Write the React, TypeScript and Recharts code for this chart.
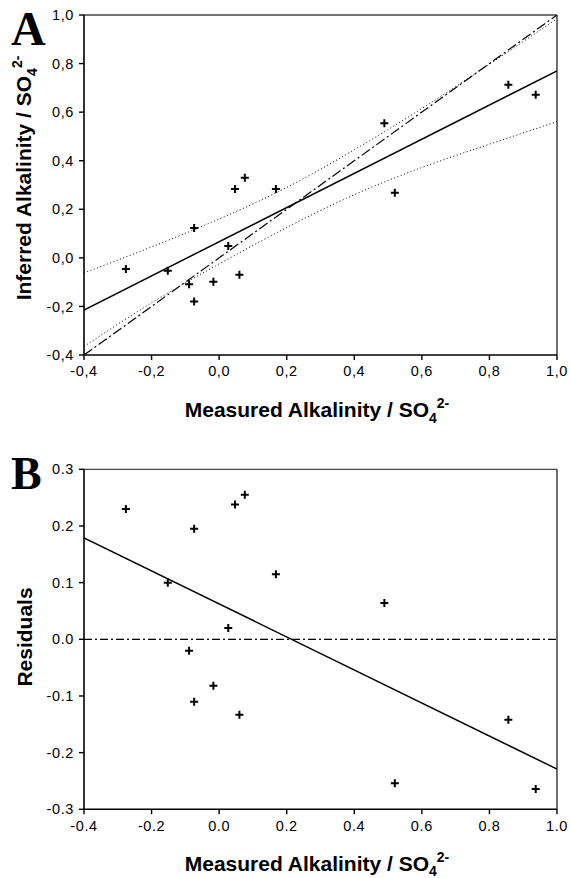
import React from "react";
import { ComposedChart, XAxis, YAxis, Line, Scatter, ReferenceLine } from "recharts";

// Measured vs inferred alkalinity / SO4 2-
const measured = [-0.276, -0.152, -0.089, -0.074, -0.017, 0.027, 0.06, -0.074, 0.047, 0.076, 0.168, 0.489, 0.52, 0.856, 0.937];
const inferred = [-0.046, -0.053, -0.109, -0.18, -0.098, 0.049, -0.07, 0.123, 0.284, 0.33, 0.284, 0.554, 0.268, 0.713, 0.672];
const residuals = [0.23, 0.1, -0.02, -0.11, -0.082, 0.02, -0.133, 0.195, 0.238, 0.255, 0.115, 0.064, -0.254, -0.142, -0.264];

// Regression line (A)
const fitX = [-0.4, 1.0];
const fitA = [-0.215, 0.77];
// 1:1 line (A)
const oneToOne = [-0.4, 1.0];
// Confidence band (A)
const bandX = [-0.4, -0.2, 0.0, 0.2, 0.4, 0.6, 0.8, 1.0];
const bandUpper = [-0.062, 0.045, 0.16, 0.29, 0.445, 0.615, 0.797, 0.985];
const bandLower = [-0.365, -0.185, -0.025, 0.125, 0.26, 0.372, 0.468, 0.561];
// Residual trend (B)
const fitB = [0.179, -0.229];

const xTicks = [-0.4, -0.2, 0.0, 0.2, 0.4, 0.6, 0.8, 1.0];
const yTicksA = [-0.4, -0.2, 0.0, 0.2, 0.4, 0.6, 0.8, 1.0];
const yTicksB = [-0.3, -0.2, -0.1, 0.0, 0.1, 0.2, 0.3];

const SANS = "'Liberation Sans', Arial, sans-serif";
const SERIF = "'Liberation Serif', 'Times New Roman', serif";

const ptsA = measured.map((x, i) => ({ x, y: inferred[i] }));
const ptsB = measured.map((x, i) => ({ x, y: residuals[i] }));
const fitAData = fitX.map((x, i) => ({ x, y: fitA[i] }));
const oneData = oneToOne.map((x) => ({ x, y: x }));
const upData = bandX.map((x, i) => ({ x, y: bandUpper[i] }));
const loData = bandX.map((x, i) => ({ x, y: bandLower[i] }));
const fitBData = fitX.map((x, i) => ({ x, y: fitB[i] }));

const fmtComma = (v: number) => v.toFixed(1).replace(".", ",");
const fmtDot = (v: number) => v.toFixed(1);

const Plus = (props: any) => {
  const { cx, cy } = props;
  if (cx == null || cy == null) return <g />;
  return (
    <path
      d={`M${cx - 4},${cy}H${cx + 4}M${cx},${cy - 4}V${cy + 4}`}
      stroke="#000"
      strokeWidth={2}
      fill="none"
    />
  );
};

const tickStyle = { fill: "#000", fontSize: 14.5, fontFamily: SANS, letterSpacing: 0.6 };
const axisLine = { stroke: "#000", strokeWidth: 1.6 };
const tickLine = { stroke: "#000", strokeWidth: 1.4 };

export default function App() {
  return (
    <div style={{ position: "relative", width: 570, height: 878, overflow: "hidden" }}>
      <style>{`html, body { margin: 0; padding: 0; }`}</style>
      <div style={{ position: "absolute", left: 0, top: 0 }}>
        <ComposedChart width={570} height={438} margin={{ top: 15, right: 13, left: 24, bottom: 53 }}>
          <XAxis
            type="number"
            dataKey="x"
            domain={[-0.4, 1.0]}
            ticks={xTicks}
            allowDataOverflow
            tickFormatter={fmtComma}
            tick={tickStyle}
            axisLine={axisLine}
            tickLine={tickLine}
            tickSize={5}
            tickMargin={6}
            height={30}
            interval={0}
          />
          <YAxis
            type="number"
            dataKey="y"
            domain={[-0.4, 1.0]}
            ticks={yTicksA}
            allowDataOverflow
            tickFormatter={fmtComma}
            tick={tickStyle}
            axisLine={axisLine}
            tickLine={tickLine}
            tickSize={5}
            tickMargin={5}
            width={60}
            interval={0}
          />
          <ReferenceLine y={1.0} stroke="#444" strokeWidth={1.3} />
          <ReferenceLine x={1.0} stroke="#222" strokeWidth={1.3} />
          <Line data={upData} dataKey="y" type="natural" stroke="#000" strokeWidth={1} strokeDasharray="1 2.5" dot={false} isAnimationActive={false} />
          <Line data={loData} dataKey="y" type="natural" stroke="#000" strokeWidth={1} strokeDasharray="1 2.5" dot={false} isAnimationActive={false} />
          <Line data={oneData} dataKey="y" type="linear" stroke="#000" strokeWidth={1.2} strokeDasharray="10 3 2 3" dot={false} isAnimationActive={false} />
          <Line data={fitAData} dataKey="y" type="linear" stroke="#000" strokeWidth={1.5} dot={false} isAnimationActive={false} />
          <Scatter data={ptsA} dataKey="y" shape={Plus} isAnimationActive={false} />
        </ComposedChart>
      </div>
      <div style={{ position: "absolute", left: 0, top: 438 }}>
        <ComposedChart width={570} height={440} margin={{ top: 31.3, right: 13, left: 24, bottom: 38.7 }}>
          <XAxis
            type="number"
            dataKey="x"
            domain={[-0.4, 1.0]}
            ticks={xTicks}
            allowDataOverflow
            tickFormatter={fmtDot}
            tick={tickStyle}
            axisLine={axisLine}
            tickLine={tickLine}
            tickSize={5}
            tickMargin={6}
            height={30}
            interval={0}
          />
          <YAxis
            type="number"
            dataKey="y"
            domain={[-0.3, 0.3]}
            ticks={yTicksB}
            allowDataOverflow
            tickFormatter={fmtDot}
            tick={tickStyle}
            axisLine={axisLine}
            tickLine={tickLine}
            tickSize={5}
            tickMargin={5}
            width={60}
            interval={0}
          />
          <ReferenceLine y={0.3} stroke="#444" strokeWidth={1.3} />
          <ReferenceLine x={1.0} stroke="#222" strokeWidth={1.3} />
          <ReferenceLine y={0} stroke="#000" strokeWidth={1.2} strokeDasharray="8 3 2 3" />
          <Line data={fitBData} dataKey="y" type="linear" stroke="#000" strokeWidth={1.5} dot={false} isAnimationActive={false} />
          <Scatter data={ptsB} dataKey="y" shape={Plus} isAnimationActive={false} />
        </ComposedChart>
      </div>
      <svg
        width={570}
        height={878}
        style={{ position: "absolute", left: 0, top: 0, pointerEvents: "none" }}
      >
        <text x={11} y={45} fontFamily={SERIF} fontWeight="bold" fontSize={48} fill="#000">A</text>
        <text x={11} y={489} fontFamily={SERIF} fontWeight="bold" fontSize={46} fill="#000">B</text>
        <text
          x={31}
          y={178}
          transform="rotate(-90 31 178)"
          textAnchor="middle"
          fontFamily={SANS}
          fontWeight="bold"
          fontSize={21}
          fill="#000"
        >
          Inferred Alkalinity / SO
          <tspan fontSize={14} dy={6}>4</tspan>
          <tspan fontSize={14} dy={-15}>2-</tspan>
        </text>
        <text
          x={317}
          y={416.7}
          textAnchor="middle"
          fontFamily={SANS}
          fontWeight="bold"
          fontSize={21}
          fill="#000"
        >
          Measured Alkalinity / SO
          <tspan fontSize={14} dy={6}>4</tspan>
          <tspan fontSize={14} dy={-15}>2-</tspan>
        </text>
        <text
          x={32}
          y={637}
          transform="rotate(-90 32 637)"
          textAnchor="middle"
          fontFamily={SANS}
          fontWeight="bold"
          fontSize={21}
          fill="#000"
        >
          Residuals
        </text>
        <text
          x={317}
          y={871}
          textAnchor="middle"
          fontFamily={SANS}
          fontWeight="bold"
          fontSize={21}
          fill="#000"
        >
          Measured Alkalinity / SO
          <tspan fontSize={14} dy={5}>4</tspan>
          <tspan fontSize={14} dy={-14}>2-</tspan>
        </text>
      </svg>
    </div>
  );
}
